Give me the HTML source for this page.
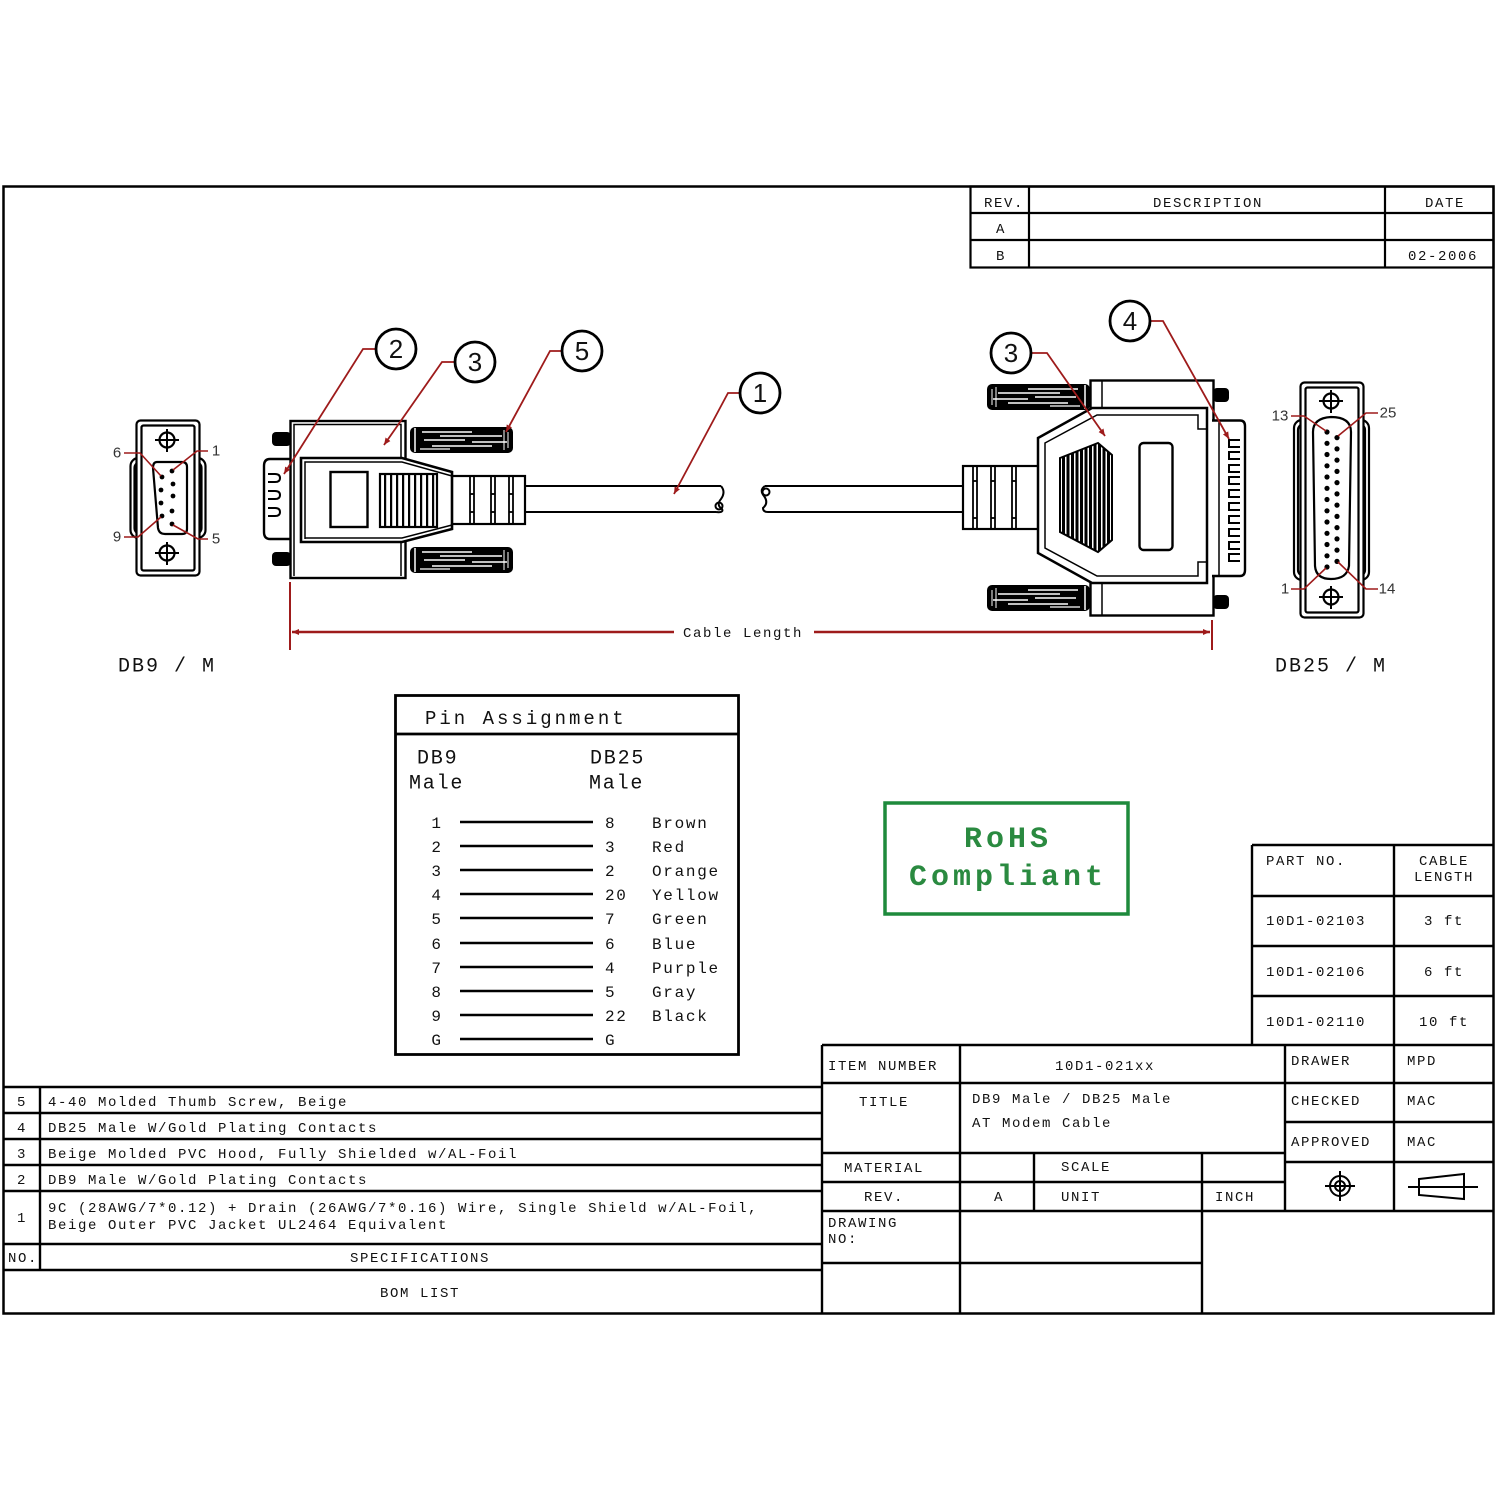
<!DOCTYPE html>
<html>
<head>
<meta charset="utf-8">
<style>
html,body{margin:0;padding:0;background:#fff;}
svg{display:block;}
text{font-family:"Liberation Mono",monospace;fill:#111;}
text:not(.bl):not(.sm){transform:translateY(2px);}
.t14{font-size:14px;letter-spacing:1.6px;}
.pa{font-size:16px;letter-spacing:1.7px;}
.bl{font-family:"Liberation Sans",sans-serif;font-size:26px;}
.sm{font-family:"Liberation Sans",sans-serif;font-size:15px;fill:#333;}
</style>
</head>
<body>
<svg width="1500" height="1500" viewBox="0 0 1500 1500" xmlns="http://www.w3.org/2000/svg">
<defs>
  <pattern id="g1" width="6" height="10" patternUnits="userSpaceOnUse"><rect width="2.2" height="10" fill="#000"/></pattern>
  <pattern id="g2" width="4.5" height="10" patternUnits="userSpaceOnUse"><rect width="3" height="10" fill="#000"/></pattern>
  <marker id="ah" markerWidth="8" markerHeight="8" refX="7" refY="4" orient="auto" markerUnits="userSpaceOnUse">
    <path d="M0,1 L7,4 L0,7 Z" fill="#9e1b1b"/>
  </marker>
  <marker id="ahs" markerWidth="8" markerHeight="8" refX="1" refY="4" orient="auto" markerUnits="userSpaceOnUse">
    <path d="M8,1 L1,4 L8,7 Z" fill="#9e1b1b"/>
  </marker>
  <g id="screw">
    <rect x="0" y="0" width="103" height="26" rx="5" fill="#000"/>
    <line x1="5" y1="1" x2="5" y2="25" stroke="#fff" stroke-width="1.5"/>
    <line x1="12" y1="5" x2="62" y2="5" stroke="#fff" stroke-width="1.6"/>
    <line x1="30" y1="9" x2="92" y2="9" stroke="#fff" stroke-width="1.4"/>
    <line x1="14" y1="13" x2="55" y2="13" stroke="#fff" stroke-width="1.4"/>
    <line x1="62" y1="15" x2="97" y2="15" stroke="#fff" stroke-width="1.4"/>
    <line x1="22" y1="19" x2="82" y2="19" stroke="#fff" stroke-width="1.4"/>
    <line x1="10" y1="22" x2="40" y2="22" stroke="#fff" stroke-width="1.2"/>
    <line x1="94" y1="3" x2="94" y2="23" stroke="#fff" stroke-width="1"/>
    <line x1="98" y1="5" x2="98" y2="21" stroke="#fff" stroke-width="1"/>
  </g>
</defs>

<rect width="1500" height="1500" fill="#fff"/>

<!-- Outer frame -->
<rect x="3.5" y="186.5" width="1490" height="1127" fill="none" stroke="#000" stroke-width="2.5"/>

<!-- Revision table -->
<g stroke="#000" stroke-width="2.2" fill="none">
  <rect x="970.5" y="186.5" width="523" height="81"/>
  <line x1="1029" y1="186" x2="1029" y2="267"/>
  <line x1="1385" y1="186" x2="1385" y2="267"/>
  <line x1="970" y1="213" x2="1493" y2="213"/>
  <line x1="970" y1="240" x2="1493" y2="240"/>
</g>
<g class="t14" dominant-baseline="central" text-anchor="middle">
  <text x="1004" y="202" class="t14">REV.</text>
  <text x="1208" y="202" class="t14">DESCRIPTION</text>
  <text x="1445" y="202" class="t14">DATE</text>
  <text x="1001" y="228" class="t14">A</text>
  <text x="1001" y="255" class="t14">B</text>
  <text x="1443" y="255" class="t14">02-2006</text>
</g>

<!-- ============ DB9 face ============ -->
<g stroke="#000" stroke-width="2.2" fill="#fff">
  <rect x="130.5" y="458" width="75" height="80" rx="8"/>
  <rect x="134.5" y="462" width="67" height="72" rx="6"/>
  <rect x="136.5" y="420.5" width="63" height="155" rx="4"/>
  <rect x="141.5" y="425.5" width="53" height="145" rx="2"/>
  <path d="M157,462 L182,462 Q187,462 187,467 L187,529 Q187,534 182,534 L165,534 Q159,534 158,528 L153,468 Q153,462 157,462 Z"/>
  <circle cx="167" cy="440" r="7.5"/>
  <circle cx="167" cy="553" r="7.5"/>
</g>
<g stroke="#000" stroke-width="2">
  <line x1="155" y1="440" x2="179" y2="440"/><line x1="167" y1="429" x2="167" y2="452"/>
  <line x1="155" y1="553" x2="179" y2="553"/><line x1="167" y1="542" x2="167" y2="565"/>
</g>
<g fill="#000">
  <circle cx="172" cy="471" r="2.4"/><circle cx="173" cy="484" r="2.4"/><circle cx="173" cy="496" r="2.4"/><circle cx="172" cy="511" r="2.4"/><circle cx="172" cy="524" r="2.4"/>
  <circle cx="162" cy="477" r="2.4"/><circle cx="161" cy="490" r="2.4"/><circle cx="161" cy="503" r="2.4"/><circle cx="162" cy="516" r="2.4"/>
</g>
<g stroke="#9e1b1b" stroke-width="1.6" fill="none">
  <polyline points="124,453 140,453 161,476"/>
  <polyline points="208,451 197,451 173,470"/>
  <polyline points="124,537 138,537 161,517"/>
  <polyline points="208,539 198,539 173,525"/>
</g>
<text class="sm" x="117" y="453" text-anchor="middle" dominant-baseline="central">6</text>
<text class="sm" x="216" y="451" text-anchor="middle" dominant-baseline="central">1</text>
<text class="sm" x="117" y="537" text-anchor="middle" dominant-baseline="central">9</text>
<text class="sm" x="216" y="539" text-anchor="middle" dominant-baseline="central">5</text>

<!-- ============ DB9 side view ============ -->
<g stroke="#000" stroke-width="2.4" fill="#fff">
  <path d="M291,459 H270 Q264,459 264,466 V532 Q264,539 270,539 H291"/>
</g>
<g stroke="#000" stroke-width="2" fill="none">
  <path d="M268,474 H275 Q280,474 280,478 Q280,482 275,482 H268"/>
  <path d="M268,491 H275 Q280,491 280,495 Q280,499 275,499 H268"/>
  <path d="M268,508 H275 Q280,508 280,512 Q280,516 275,516 H268"/>
</g>
<rect x="272" y="432" width="19" height="14" rx="4" fill="#000"/>
<rect x="272" y="552" width="19" height="14" rx="4" fill="#000"/>
<g stroke="#000" stroke-width="2.4" fill="#fff">
  <rect x="290.5" y="421" width="115" height="157"/>
</g>
<g stroke="#000" stroke-width="1.5" fill="none">
  <polyline points="294,576 294,424.5 401,424.5 401,576"/>
</g>
<use href="#screw" x="410" y="427"/>
<use href="#screw" x="410" y="547"/>
<!-- strain relief -->
<g stroke="#000" stroke-width="2.2" fill="#fff">
  <rect x="450" y="476" width="75" height="48"/>
</g>
<g stroke="#000" stroke-width="1.8">
  <line x1="470" y1="476" x2="470" y2="524"/><line x1="474" y1="476" x2="474" y2="524"/>
  <line x1="491" y1="476" x2="491" y2="524"/><line x1="495" y1="476" x2="495" y2="524"/>
  <line x1="509" y1="476" x2="509" y2="524"/><line x1="513" y1="476" x2="513" y2="524"/>
  <line x1="470" y1="494" x2="474" y2="494"/><line x1="491" y1="494" x2="495" y2="494"/><line x1="509" y1="494" x2="513" y2="494"/>
  <line x1="470" y1="512" x2="474" y2="512"/><line x1="491" y1="512" x2="495" y2="512"/><line x1="509" y1="512" x2="513" y2="512"/>
</g>
<!-- boot -->
<g stroke="#000" stroke-width="2.6" fill="#fff">
  <polygon points="301,458 402,458 452,472 452,529 402,542 301,542"/>
</g>
<g stroke="#000" stroke-width="1.5" fill="none">
  <polyline points="305,539 305,462 402,462 452,476"/>
  <polyline points="305,538 402,538 452,525"/>
</g>
<rect x="330.5" y="472" width="37" height="55" fill="#fff" stroke="#000" stroke-width="2.4"/>
<rect x="380" y="474" width="57" height="53" fill="url(#g1)" stroke="#000" stroke-width="2.2"/>

<!-- cable -->
<g stroke="#000" stroke-width="2" fill="none">
  <line x1="525" y1="486" x2="721" y2="486"/>
  <line x1="525" y1="512" x2="716" y2="512"/>
  <path d="M721,486 Q726,492 721,499 Q716,505 722,509 Q724,513 716,512"/>
  <circle cx="719" cy="506" r="3.5"/>
  <line x1="765" y1="486" x2="963" y2="486"/>
  <line x1="768" y1="512" x2="963" y2="512"/>
  <path d="M765,486 Q759,490 764,496 Q769,503 763,508 Q763,512 768,512"/>
  <circle cx="766" cy="492" r="3.5"/>
</g>

<!-- ============ DB25 side view ============ -->
<g stroke="#000" stroke-width="2.2" fill="#fff">
  <rect x="963" y="466" width="76" height="63"/>
</g>
<g stroke="#000" stroke-width="1.8">
  <line x1="973" y1="466" x2="973" y2="529"/><line x1="977" y1="466" x2="977" y2="529"/>
  <line x1="991" y1="466" x2="991" y2="529"/><line x1="995" y1="466" x2="995" y2="529"/>
  <line x1="1012" y1="466" x2="1012" y2="529"/><line x1="1016" y1="466" x2="1016" y2="529"/>
  <line x1="973" y1="481" x2="977" y2="481"/><line x1="991" y1="481" x2="995" y2="481"/><line x1="1012" y1="481" x2="1016" y2="481"/>
  <line x1="973" y1="518" x2="977" y2="518"/><line x1="991" y1="518" x2="995" y2="518"/><line x1="1012" y1="518" x2="1016" y2="518"/>
</g>
<g stroke="#000" stroke-width="2.4" fill="#fff">
  <rect x="1090.5" y="380.5" width="123" height="235"/>
</g>
<line x1="1102" y1="381" x2="1102" y2="408" stroke="#000" stroke-width="1.5"/>
<line x1="1102" y1="583" x2="1102" y2="615" stroke="#000" stroke-width="1.5"/>
<use href="#screw" transform="translate(1090,384) scale(-1,1)"/>
<use href="#screw" transform="translate(1090,585) scale(-1,1)"/>
<rect x="1213" y="388" width="16" height="14" rx="4" fill="#000"/>
<rect x="1213" y="595" width="16" height="14" rx="4" fill="#000"/>
<g stroke="#000" stroke-width="2.4" fill="#fff">
  <path d="M1212,420.5 H1240 Q1245,420.5 1245,426 V570 Q1245,576 1240,576 H1212"/>
</g>
<line x1="1219" y1="421" x2="1219" y2="575" stroke="#000" stroke-width="1.5"/>
<g stroke="#000" stroke-width="2" fill="none">
  <path d="M1240,440 H1229 V447 H1240"/>
  <path d="M1240,452 H1229 V459 H1240"/>
  <path d="M1240,465 H1229 V472 H1240"/>
  <path d="M1240,477 H1229 V484 H1240"/>
  <path d="M1240,490 H1229 V497 H1240"/>
  <path d="M1240,503 H1229 V510 H1240"/>
  <path d="M1240,516 H1229 V523 H1240"/>
  <path d="M1240,529 H1229 V536 H1240"/>
  <path d="M1240,542 H1229 V549 H1240"/>
  <path d="M1240,554 H1229 V561 H1240"/>
</g>
<g stroke="#000" stroke-width="2.5" fill="#fff">
  <polygon points="1038,438 1092,408 1207,408 1207,583 1092,583 1038,553"/>
</g>
<g stroke="#000" stroke-width="1.5" fill="none">
  <polygon points="1045,443 1097,415 1198,415 1198,429 1207,429 1207,562 1198,562 1198,576 1097,576 1045,548"/>
</g>
<polygon points="1060,458 1098,443 1112,455 1112,540 1098,552 1060,532" fill="url(#g2)" stroke="#000" stroke-width="2"/>
<rect x="1139.5" y="443" width="33" height="107" rx="4" fill="#fff" stroke="#000" stroke-width="2.4"/>

<!-- ============ DB25 face ============ -->
<g stroke="#000" stroke-width="2.2" fill="#fff">
  <rect x="1294" y="420" width="75" height="160" rx="8"/>
  <rect x="1298" y="424" width="67" height="152" rx="6"/>
  <rect x="1300.5" y="382.5" width="63" height="235" rx="4"/>
  <rect x="1305.5" y="387.5" width="53" height="225" rx="2"/>
  <path d="M1313,432 Q1313,418 1331,417 Q1351,417 1351,432 L1349,566 Q1347,579 1331,579 Q1316,579 1315,566 Z"/>
  <circle cx="1331" cy="401" r="7.5"/>
  <circle cx="1331" cy="597" r="7.5"/>
</g>
<g stroke="#000" stroke-width="2">
  <line x1="1319" y1="401" x2="1343" y2="401"/><line x1="1331" y1="390" x2="1331" y2="413"/>
  <line x1="1319" y1="597" x2="1343" y2="597"/><line x1="1331" y1="586" x2="1331" y2="609"/>
</g>
<g fill="#000">
  <circle cx="1327" cy="432" r="2.6"/><circle cx="1327" cy="443.3" r="2.6"/><circle cx="1327" cy="454.5" r="2.6"/><circle cx="1327" cy="465.8" r="2.6"/><circle cx="1327" cy="477" r="2.6"/><circle cx="1327" cy="488.3" r="2.6"/><circle cx="1327" cy="499.5" r="2.6"/><circle cx="1327" cy="510.8" r="2.6"/><circle cx="1327" cy="522" r="2.6"/><circle cx="1327" cy="533.3" r="2.6"/><circle cx="1327" cy="544.5" r="2.6"/><circle cx="1327" cy="555.8" r="2.6"/><circle cx="1327" cy="567" r="2.6"/>
  <circle cx="1337" cy="437.6" r="2.6"/><circle cx="1337" cy="448.9" r="2.6"/><circle cx="1337" cy="460.1" r="2.6"/><circle cx="1337" cy="471.4" r="2.6"/><circle cx="1337" cy="482.6" r="2.6"/><circle cx="1337" cy="493.9" r="2.6"/><circle cx="1337" cy="505.1" r="2.6"/><circle cx="1337" cy="516.4" r="2.6"/><circle cx="1337" cy="527.6" r="2.6"/><circle cx="1337" cy="538.9" r="2.6"/><circle cx="1337" cy="550.1" r="2.6"/><circle cx="1337" cy="561.4" r="2.6"/>
</g>
<g stroke="#9e1b1b" stroke-width="1.6" fill="none">
  <polyline points="1291,416 1304,416 1326,431"/>
  <polyline points="1378,413 1366,413 1338,436"/>
  <polyline points="1291,589 1304,589 1326,568"/>
  <polyline points="1378,589 1366,589 1338,562"/>
</g>
<text class="sm" x="1280" y="416" text-anchor="middle" dominant-baseline="central">13</text>
<text class="sm" x="1388" y="413" text-anchor="middle" dominant-baseline="central">25</text>
<text class="sm" x="1285" y="589" text-anchor="middle" dominant-baseline="central">1</text>
<text class="sm" x="1387" y="589" text-anchor="middle" dominant-baseline="central">14</text>

<!-- ============ Balloons & leaders ============ -->
<g stroke="#9e1b1b" stroke-width="1.8" fill="none" marker-end="url(#ah)">
  <polyline points="375,349 363,349 284,474"/>
  <polyline points="454,362 442,362 384,445"/>
  <polyline points="561,351 550,351 506,432"/>
  <polyline points="739,393 728,393 674,494"/>
  <polyline points="1032,353 1047,353 1105,436"/>
  <polyline points="1151,321 1163,321 1229,439"/>
</g>
<g stroke="#000" stroke-width="2.8" fill="#fff">
  <circle cx="396" cy="349" r="20"/>
  <circle cx="475" cy="362" r="20"/>
  <circle cx="582" cy="351" r="20"/>
  <circle cx="760" cy="393" r="20"/>
  <circle cx="1011" cy="353" r="20"/>
  <circle cx="1130" cy="321" r="20"/>
</g>
<g text-anchor="middle" dominant-baseline="central">
  <text class="bl" x="396" y="349">2</text>
  <text class="bl" x="475" y="362">3</text>
  <text class="bl" x="582" y="351">5</text>
  <text class="bl" x="760" y="393">1</text>
  <text class="bl" x="1011" y="353">3</text>
  <text class="bl" x="1130" y="321">4</text>
</g>

<!-- ============ Cable length dimension ============ -->
<g stroke="#9e1b1b" stroke-width="2">
  <line x1="290" y1="582" x2="290" y2="650"/>
  <line x1="1212" y1="620" x2="1212" y2="650"/>
</g>
<g stroke="#9e1b1b" stroke-width="2.6">
  <line x1="292" y1="632" x2="674" y2="632" marker-start="url(#ahs)"/>
  <line x1="814" y1="632" x2="1210" y2="632" marker-end="url(#ah)"/>
</g>
<text class="t14" x="743" y="632" text-anchor="middle" dominant-baseline="central">Cable Length</text>

<text x="118" y="665" dominant-baseline="central" style="font-size:20px;letter-spacing:2px;">DB9 / M</text>
<text x="1275" y="665" dominant-baseline="central" style="font-size:20px;letter-spacing:2px;">DB25 / M</text>

<!-- ============ Pin Assignment ============ -->
<g stroke="#000" stroke-width="2.8" fill="none">
  <rect x="395.5" y="695.5" width="343" height="359"/>
  <line x1="395" y1="734" x2="738" y2="734"/>
</g>
<text x="425" y="717" dominant-baseline="central" style="font-size:19px;letter-spacing:3px;">Pin Assignment</text>
<text x="417" y="757" dominant-baseline="central" style="font-size:20px;letter-spacing:1.8px;">DB9</text>
<text x="409" y="782" dominant-baseline="central" style="font-size:20px;letter-spacing:1.8px;">Male</text>
<text x="590" y="757" dominant-baseline="central" style="font-size:20px;letter-spacing:1.8px;">DB25</text>
<text x="589" y="782" dominant-baseline="central" style="font-size:20px;letter-spacing:1.8px;">Male</text>
<g stroke="#000" stroke-width="2.4">
  <line x1="460" y1="822" x2="593" y2="822"/>
  <line x1="460" y1="846" x2="593" y2="846"/>
  <line x1="460" y1="870" x2="593" y2="870"/>
  <line x1="460" y1="894" x2="593" y2="894"/>
  <line x1="460" y1="918" x2="593" y2="918"/>
  <line x1="460" y1="943" x2="593" y2="943"/>
  <line x1="460" y1="967" x2="593" y2="967"/>
  <line x1="460" y1="991" x2="593" y2="991"/>
  <line x1="460" y1="1015" x2="593" y2="1015"/>
  <line x1="460" y1="1039" x2="593" y2="1039"/>
</g>
<g class="pa" dominant-baseline="central">
  <text class="pa" x="437" y="822" text-anchor="middle">1</text><text class="pa" x="605" y="822">8</text><text class="pa" x="652" y="822">Brown</text>
  <text class="pa" x="437" y="846" text-anchor="middle">2</text><text class="pa" x="605" y="846">3</text><text class="pa" x="652" y="846">Red</text>
  <text class="pa" x="437" y="870" text-anchor="middle">3</text><text class="pa" x="605" y="870">2</text><text class="pa" x="652" y="870">Orange</text>
  <text class="pa" x="437" y="894" text-anchor="middle">4</text><text class="pa" x="605" y="894">20</text><text class="pa" x="652" y="894">Yellow</text>
  <text class="pa" x="437" y="918" text-anchor="middle">5</text><text class="pa" x="605" y="918">7</text><text class="pa" x="652" y="918">Green</text>
  <text class="pa" x="437" y="943" text-anchor="middle">6</text><text class="pa" x="605" y="943">6</text><text class="pa" x="652" y="943">Blue</text>
  <text class="pa" x="437" y="967" text-anchor="middle">7</text><text class="pa" x="605" y="967">4</text><text class="pa" x="652" y="967">Purple</text>
  <text class="pa" x="437" y="991" text-anchor="middle">8</text><text class="pa" x="605" y="991">5</text><text class="pa" x="652" y="991">Gray</text>
  <text class="pa" x="437" y="1015" text-anchor="middle">9</text><text class="pa" x="605" y="1015">22</text><text class="pa" x="652" y="1015">Black</text>
  <text class="pa" x="437" y="1039" text-anchor="middle">G</text><text class="pa" x="605" y="1039">G</text>
</g>

<!-- ============ RoHS ============ -->
<rect x="885" y="803" width="243" height="111" fill="none" stroke="#1e8a3c" stroke-width="3.5"/>
<g text-anchor="middle" dominant-baseline="central">
  <text x="1008" y="838" style="fill:#2a8a40;font-size:30px;letter-spacing:4px;font-weight:bold;">RoHS</text>
  <text x="1008" y="876" style="fill:#2a8a40;font-size:30px;letter-spacing:4px;font-weight:bold;">Compliant</text>
</g>

<!-- ============ Part No table ============ -->
<g stroke="#000" stroke-width="2.4" fill="none">
  <line x1="1252" y1="845" x2="1493" y2="845"/>
  <line x1="1252" y1="845" x2="1252" y2="1045"/>
  <line x1="1394" y1="845" x2="1394" y2="1045"/>
  <line x1="1252" y1="896" x2="1493" y2="896"/>
  <line x1="1252" y1="946" x2="1493" y2="946"/>
  <line x1="1252" y1="996" x2="1493" y2="996"/>
</g>
<g dominant-baseline="central">
  <text class="t14" x="1266" y="860">PART NO.</text>
  <text class="t14" x="1444" y="860" text-anchor="middle">CABLE</text>
  <text class="t14" x="1444" y="876" text-anchor="middle">LENGTH</text>
  <text class="t14" x="1266" y="920">10D1-02103</text>
  <text class="t14" x="1444" y="920" text-anchor="middle">3 ft</text>
  <text class="t14" x="1266" y="971">10D1-02106</text>
  <text class="t14" x="1444" y="971" text-anchor="middle">6 ft</text>
  <text class="t14" x="1266" y="1021">10D1-02110</text>
  <text class="t14" x="1444" y="1021" text-anchor="middle">10 ft</text>
</g>

<!-- ============ Title block ============ -->
<g stroke="#000" stroke-width="2.4" fill="none">
  <line x1="822" y1="1045" x2="1493" y2="1045"/>
  <line x1="822" y1="1045" x2="822" y2="1313"/>
  <line x1="960" y1="1045" x2="960" y2="1313"/>
  <line x1="1285" y1="1045" x2="1285" y2="1211"/>
  <line x1="1394" y1="1045" x2="1394" y2="1211"/>
  <line x1="822" y1="1083" x2="1493" y2="1083"/>
  <line x1="1285" y1="1122" x2="1493" y2="1122"/>
  <line x1="822" y1="1153" x2="1285" y2="1153"/>
  <line x1="1285" y1="1162" x2="1493" y2="1162"/>
  <line x1="822" y1="1182" x2="1285" y2="1182"/>
  <line x1="822" y1="1211" x2="1493" y2="1211"/>
  <line x1="1034" y1="1153" x2="1034" y2="1211"/>
  <line x1="1202" y1="1153" x2="1202" y2="1313"/>
  <line x1="822" y1="1263" x2="1202" y2="1263"/>
</g>
<g dominant-baseline="central">
  <text class="t14" x="828" y="1065">ITEM NUMBER</text>
  <text class="t14" x="1105" y="1065" text-anchor="middle">10D1-021xx</text>
  <text class="t14" x="1291" y="1060">DRAWER</text>
  <text class="t14" x="1407" y="1060">MPD</text>
  <text class="t14" x="884" y="1101" text-anchor="middle">TITLE</text>
  <text class="t14" x="972" y="1098">DB9 Male / DB25 Male</text>
  <text class="t14" x="972" y="1122">AT Modem Cable</text>
  <text class="t14" x="1291" y="1100">CHECKED</text>
  <text class="t14" x="1407" y="1100">MAC</text>
  <text class="t14" x="1291" y="1141">APPROVED</text>
  <text class="t14" x="1407" y="1141">MAC</text>
  <text class="t14" x="884" y="1167" text-anchor="middle">MATERIAL</text>
  <text class="t14" x="1061" y="1166">SCALE</text>
  <text class="t14" x="884" y="1196" text-anchor="middle">REV.</text>
  <text class="t14" x="999" y="1196" text-anchor="middle">A</text>
  <text class="t14" x="1061" y="1196">UNIT</text>
  <text class="t14" x="1215" y="1196">INCH</text>
  <text class="t14" x="828" y="1222">DRAWING</text>
  <text class="t14" x="828" y="1238">NO:</text>
</g>
<g stroke="#000" stroke-width="2" fill="none">
  <circle cx="1340" cy="1186" r="10"/>
  <circle cx="1340" cy="1186" r="5"/>
  <line x1="1325" y1="1186" x2="1355" y2="1186"/>
  <line x1="1340" y1="1171" x2="1340" y2="1201"/>
  <line x1="1408" y1="1187" x2="1478" y2="1187"/>
  <polygon points="1419,1179 1464,1174 1464,1199 1419,1195"/>
</g>

<!-- ============ BOM list ============ -->
<g stroke="#000" stroke-width="2.4" fill="none">
  <line x1="3" y1="1087" x2="822" y2="1087"/>
  <line x1="3" y1="1113" x2="822" y2="1113"/>
  <line x1="3" y1="1139" x2="822" y2="1139"/>
  <line x1="3" y1="1165" x2="822" y2="1165"/>
  <line x1="3" y1="1191" x2="822" y2="1191"/>
  <line x1="3" y1="1244" x2="822" y2="1244"/>
  <line x1="3" y1="1270" x2="822" y2="1270"/>
  <line x1="40" y1="1087" x2="40" y2="1270"/>
</g>
<g dominant-baseline="central">
  <text class="t14" x="22" y="1101" text-anchor="middle">5</text>
  <text class="t14" x="48" y="1101">4-40 Molded Thumb Screw, Beige</text>
  <text class="t14" x="22" y="1127" text-anchor="middle">4</text>
  <text class="t14" x="48" y="1127">DB25 Male W/Gold Plating Contacts</text>
  <text class="t14" x="22" y="1153" text-anchor="middle">3</text>
  <text class="t14" x="48" y="1153">Beige Molded PVC Hood, Fully Shielded w/AL-Foil</text>
  <text class="t14" x="22" y="1179" text-anchor="middle">2</text>
  <text class="t14" x="48" y="1179">DB9 Male W/Gold Plating Contacts</text>
  <text class="t14" x="22" y="1217" text-anchor="middle">1</text>
  <text class="t14" x="48" y="1207">9C (28AWG/7*0.12) + Drain (26AWG/7*0.16) Wire, Single Shield w/AL-Foil,</text>
  <text class="t14" x="48" y="1224">Beige Outer PVC Jacket UL2464 Equivalent</text>
  <text class="t14" x="8" y="1257">NO.</text>
  <text class="t14" x="420" y="1257" text-anchor="middle">SPECIFICATIONS</text>
  <text class="t14" x="420" y="1292" text-anchor="middle">BOM LIST</text>
</g>
</svg>
</body>
</html>
